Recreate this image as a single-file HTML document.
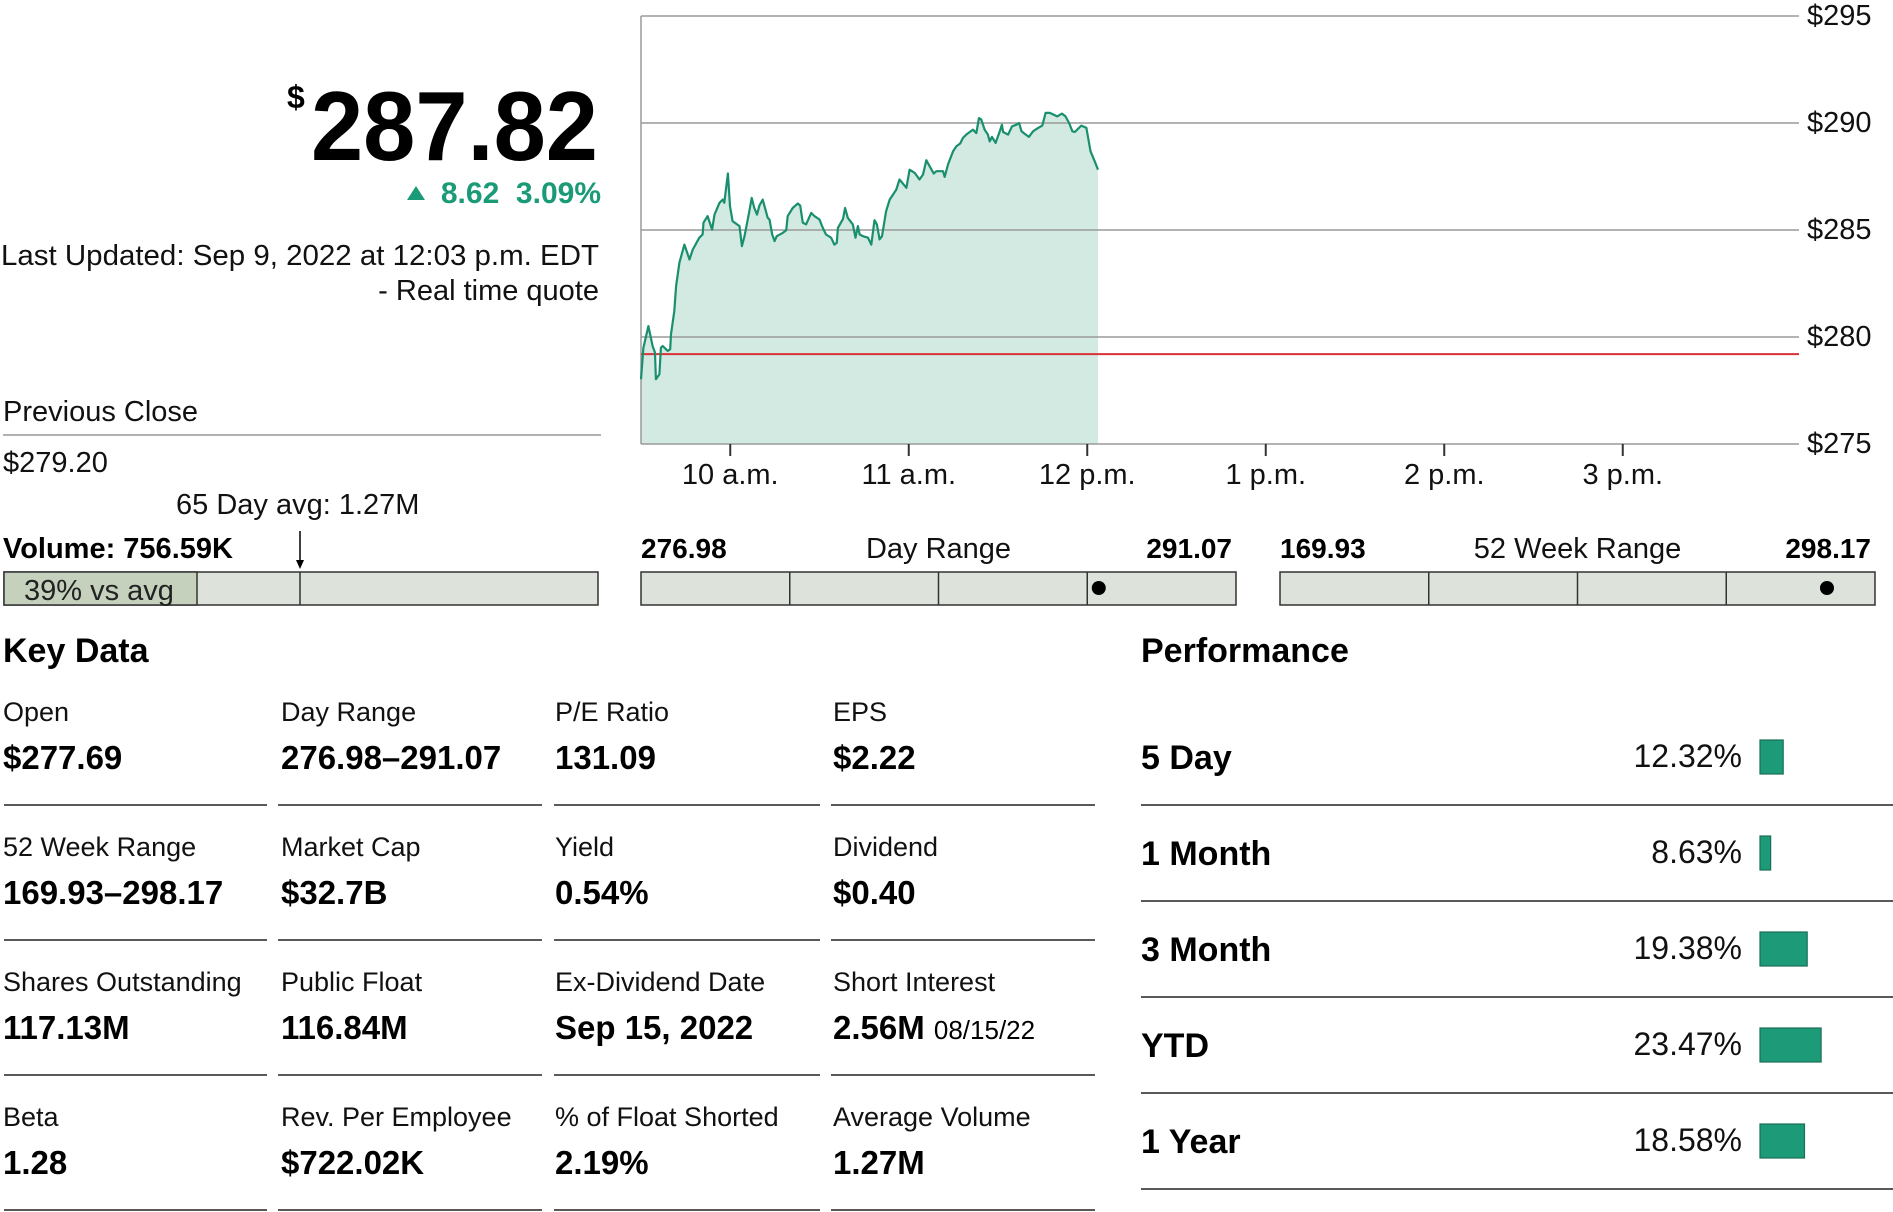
<!DOCTYPE html>
<html><head><meta charset="utf-8">
<style>
html,body{margin:0;padding:0;background:#fff;}
svg{display:block;font-family:"Liberation Sans",sans-serif;}
</style></head>
<body>
<svg id="page" width="1893" height="1212" viewBox="0 0 1893 1212" xmlns="http://www.w3.org/2000/svg">
  <g>
    <text x="287" y="108" font-size="32" font-weight="bold" fill="#000">$</text>
    <text x="598" y="160" font-size="98" font-weight="bold" text-anchor="end" fill="#000" textLength="287" lengthAdjust="spacingAndGlyphs">287.82</text>
    <path d="M407,200 L416,186 L425,200 Z" fill="#1a9a77"/>
    <text x="601" y="203" font-size="30" font-weight="bold" text-anchor="end" fill="#1a9a77">8.62&#160;&#160;3.09%</text>
    <text x="599" y="265" font-size="29" text-anchor="end" fill="#111" textLength="598" lengthAdjust="spacingAndGlyphs">Last Updated: Sep 9, 2022 at 12:03 p.m. EDT</text>
    <text x="599" y="300" font-size="29" text-anchor="end" fill="#111">- Real time quote</text>
  </g>
  <g>
    <text x="3" y="421" font-size="29" fill="#111">Previous Close</text>
    <line x1="3" y1="435" x2="601" y2="435" stroke="#999" stroke-width="1.5"/>
    <text x="3" y="472" font-size="29" fill="#111">$279.20</text>
  </g>
  <g>
    <text x="176" y="514" font-size="29" fill="#111">65 Day avg: 1.27M</text>
    <text x="3" y="558" font-size="29" font-weight="bold" fill="#000">Volume: 756.59K</text>
    <rect x="4" y="572" width="594" height="33" fill="#dde3da" stroke="#333" stroke-width="1.5"/>
    <rect x="4" y="572" width="193" height="33" fill="#c5d1bd" stroke="#333" stroke-width="1.5"/>
    <line x1="300" y1="572" x2="300" y2="605" stroke="#333" stroke-width="1.5"/>
    <line x1="300" y1="531" x2="300" y2="562" stroke="#000" stroke-width="1.5"/>
    <path d="M296,560 L300,569 L304,560 Z" fill="#000"/>
    <text x="24" y="600" font-size="29" fill="#222">39% vs avg</text>
  </g>
  <g id="chart"></g>
  <g id="ranges"></g>
  <text x="3" y="662" font-size="34" font-weight="bold" fill="#000">Key Data</text>
  <g id="keydata"></g>
  <text x="1141" y="662" font-size="34" font-weight="bold" fill="#000">Performance</text>
  <g id="perf"></g>
</svg>
<script>
const minutesSinceOpen = [0,0.8,2.5,3.9,4.7,5.0,6.2,6.7,7.3,9.0,9.8,10.1,11.2,11.8,12.9,14.6,16.3,17.4,19.6,20.7,21.0,22.4,23.9,24.7,26.4,27.5,28.0,29.2,29.9,30.8,33.1,33.9,34.8,36.2,37.2,38.1,39.0,39.8,40.9,42.6,43.2,44.1,44.9,45.6,47.7,48.8,49.3,51.0,52.7,53.5,54.4,55.5,57.2,58.3,60.0,61.1,62.2,63.9,65.0,65.8,66.2,67.9,68.6,69.5,71.2,72.1,72.9,73.5,74.6,76.3,77.4,78.5,79.3,80.2,81.0,82.4,83.6,85.8,86.9,89.2,90.3,92.0,93.6,94.8,95.9,97.0,98.4,99.3,101.5,102.1,103.2,104.9,106.0,107.3,108.2,109.3,111.6,112.7,113.6,114.4,115.5,116.6,117.2,118.0,119.2,120.6,121.3,121.7,123.4,124.7,126.2,127.1,127.9,129.0,130.4,131.8,132.9,134.0,134.9,136.0,137.4,139.9,141.5,142.7,143.9,145.0,145.8,148.0,149.7,151.1,152.5,153.6];
const prices = [278.03,279.50,280.51,279.58,279.27,278.03,278.26,279.50,279.58,279.35,279.43,280.13,281.21,282.38,283.47,284.32,283.62,284.09,284.64,284.79,285.34,285.65,285.02,285.72,286.27,286.42,286.27,287.64,286.11,285.41,285.18,284.25,284.71,285.72,286.50,286.03,285.72,286.14,286.42,285.57,285.49,284.79,284.48,284.71,284.87,284.99,285.65,286.03,286.24,286.14,285.34,285.26,285.80,285.65,285.49,285.10,284.79,284.64,284.32,284.40,285.10,285.52,286.03,285.57,285.26,284.64,285.18,284.79,284.71,284.64,284.32,285.46,285.26,284.56,284.71,285.88,286.42,286.89,287.36,286.97,287.82,287.67,287.36,287.59,288.26,287.98,287.64,287.75,287.75,287.48,288.06,288.68,288.91,289.04,289.30,289.46,289.69,289.53,290.23,290.16,289.69,289.46,289.14,289.35,289.07,289.61,289.92,289.58,289.46,289.84,289.92,290.00,289.61,289.49,289.35,289.61,289.72,289.81,289.88,290.47,290.47,290.31,290.44,290.31,290.00,289.61,289.58,289.88,289.77,288.68,288.21,287.82];
const previousClose = 279.20;
const yTicks = [295,290,285,280,275];
const yTickLabels = ["$295","$290","$285","$280","$275"];
const xTickMinutes = [30,90,150,210,270,330];
const xTickLabels = ["10 a.m.","11 a.m.","12 p.m.","1 p.m.","2 p.m.","3 p.m."];

const dayRange = [276.98, 291.07];
const weekRange = [169.93, 298.17];
const currentPrice = 287.82;

const keyLabels = ["Open","Day Range","P/E Ratio","EPS","52 Week Range","Market Cap","Yield","Dividend","Shares Outstanding","Public Float","Ex-Dividend Date","Short Interest","Beta","Rev. Per Employee","% of Float Shorted","Average Volume"];
const keyValues = ["$277.69","276.98–291.07","131.09","$2.22","169.93–298.17","$32.7B","0.54%","$0.40","117.13M","116.84M","Sep 15, 2022","2.56M","1.28","$722.02K","2.19%","1.27M"];

const perfLabels = ["5 Day","1 Month","3 Month","YTD","1 Year"];
const perfValues = [12.32, 8.63, 19.38, 23.47, 18.58];

const NS = "http://www.w3.org/2000/svg";
function mk(tag, attrs, parent, txt){
  const e = document.createElementNS(NS, tag);
  for (const k in attrs) e.setAttribute(k, attrs[k]);
  if (txt !== undefined) e.textContent = txt;
  parent.appendChild(e);
  return e;
}

const X0 = 641, X1 = 1799, Y0 = 444;
function xScale(m){ return X0 + m * (178.5/60); }
function yScale(p){ return Y0 - (p - 275) * 21.4; }

const chart = document.getElementById('chart');
let d = "M" + xScale(minutesSinceOpen[0]) + "," + Y0;
minutesSinceOpen.forEach((m,i)=>{ d += " L" + xScale(m).toFixed(1) + "," + yScale(prices[i]).toFixed(1); });
d += " L" + xScale(minutesSinceOpen[minutesSinceOpen.length-1]).toFixed(1) + "," + Y0 + " Z";
const area = mk('path', {d: d, fill: '#d3eae3'}, chart);


yTicks.forEach((t,i)=>{
  const g = mk('line', {x1: X0, x2: X1, y1: yScale(t), y2: yScale(t), stroke: '#9a9a9a', 'stroke-width': 1.5}, chart);
  
  
  const lb = mk('text', {x: 1807, y: yScale(t) + 9, 'font-size': 29, fill: '#111'}, chart, yTickLabels[i]);
  
  
});
const la = mk('line', {x1: X0, x2: X0, y1: yScale(295), y2: Y0, stroke: '#9a9a9a', 'stroke-width': 1.5}, chart);


xTickMinutes.forEach((m,i)=>{
  const tk = mk('line', {x1: xScale(m), x2: xScale(m), y1: Y0, y2: Y0 + 12, stroke: '#333', 'stroke-width': 2}, chart);
  
  
  const tl = mk('text', {x: xScale(m), y: 484, 'font-size': 29, fill: '#111', 'text-anchor': 'middle'}, chart, xTickLabels[i]);
  
  
});
const pc = mk('line', {x1: X0, x2: X1, y1: yScale(previousClose), y2: yScale(previousClose), stroke: '#d9303a', 'stroke-width': 2}, chart);


let ld = "";
minutesSinceOpen.forEach((m,i)=>{ ld += (i ? " L" : "M") + xScale(m).toFixed(1) + "," + yScale(prices[i]).toFixed(1); });
const pl = mk('path', {d: ld, fill: 'none', stroke: '#1a8f6e', 'stroke-width': 2.2, 'stroke-linejoin': 'round'}, chart);



const ranges = document.getElementById('ranges');
function rangeBar(x, w, lo, hi, title, name){
  const g = mk('g', {}, ranges);
  
  
  const a = mk('text', {x: x, y: 558, 'font-size': 28, 'font-weight': 'bold', fill: '#000'}, g, lo.toFixed(2));
  
  
  const b = mk('text', {x: x + w/2, y: 558, 'font-size': 29, fill: '#111', 'text-anchor': 'middle'}, g, title);
  
  
  const c = mk('text', {x: x + w - 4, y: 558, 'font-size': 28, 'font-weight': 'bold', fill: '#000', 'text-anchor': 'end'}, g, hi.toFixed(2));
  
  
  const r = mk('rect', {x: x, y: 572, width: w, height: 33, fill: '#dde3da', stroke: '#333', 'stroke-width': 1.5}, g);
  
  
  for (let q = 1; q < 4; q++){
    const l = mk('line', {x1: x + w*q/4, x2: x + w*q/4, y1: 572, y2: 605, stroke: '#333', 'stroke-width': 1.5}, g);
    
    
  }
  const px = x + (currentPrice - lo) / (hi - lo) * w;
  const dot = mk('circle', {cx: px, cy: 588, r: 7, fill: '#000'}, g);
  
  
}
rangeBar(641, 595, dayRange[0], dayRange[1], 'Day Range', 'day-range');
rangeBar(1280, 595, weekRange[0], weekRange[1], '52 Week Range', 'week52-range');

const kd = document.getElementById('keydata');
const colX = [3, 281, 555, 833];
const lineX = [[4,267],[278,542],[554,820],[831,1095]];
for (let i = 0; i < keyLabels.length; i++){
  const r = Math.floor(i/4), c = i % 4;
  const base = 721 + r * 135;
  const lb = mk('text', {x: colX[c], y: base, 'font-size': 27, fill: '#111'}, kd, keyLabels[i]);
  
  
  const vl = mk('text', {x: colX[c], y: base + 48, 'font-size': 33, 'font-weight': 'bold', fill: '#000'}, kd, keyValues[i]);
  
  
  if (keyLabels[i] === 'Short Interest'){
    vl.textContent = '';
    mk('tspan', {}, vl, keyValues[i] + ' ');
    mk('tspan', {'font-size': 26, 'font-weight': 'normal'}, vl, '08/15/22');
  }
  const ln = mk('line', {x1: lineX[c][0], x2: lineX[c][1], y1: base + 84, y2: base + 84, stroke: '#222', 'stroke-width': 1.5}, kd);
  
  
}

const pf = document.getElementById('perf');
function wScale(v){ return Math.max(8, (v - 5.5) * 3.4); }
perfLabels.forEach((lab, i)=>{
  const base = 769 + i * 96;
  const a = mk('text', {x: 1141, y: base, 'font-size': 34, 'font-weight': 'bold', fill: '#000'}, pf, lab);
  
  
  const b = mk('text', {x: 1742, y: base - 2, 'font-size': 32, fill: '#111', 'text-anchor': 'end'}, pf, perfValues[i].toFixed(2) + '%');
  
  
  const bar = mk('rect', {x: 1760, y: base - 29, width: wScale(perfValues[i]), height: 34, fill: '#1d9a77', stroke: '#1a6e55', 'stroke-width': 1.2}, pf);
  
  
  const ln = mk('line', {x1: 1141, x2: 1893, y1: base + 36, y2: base + 36, stroke: '#222', 'stroke-width': 1.5}, pf);
  
  
});
</script>
</body></html>
